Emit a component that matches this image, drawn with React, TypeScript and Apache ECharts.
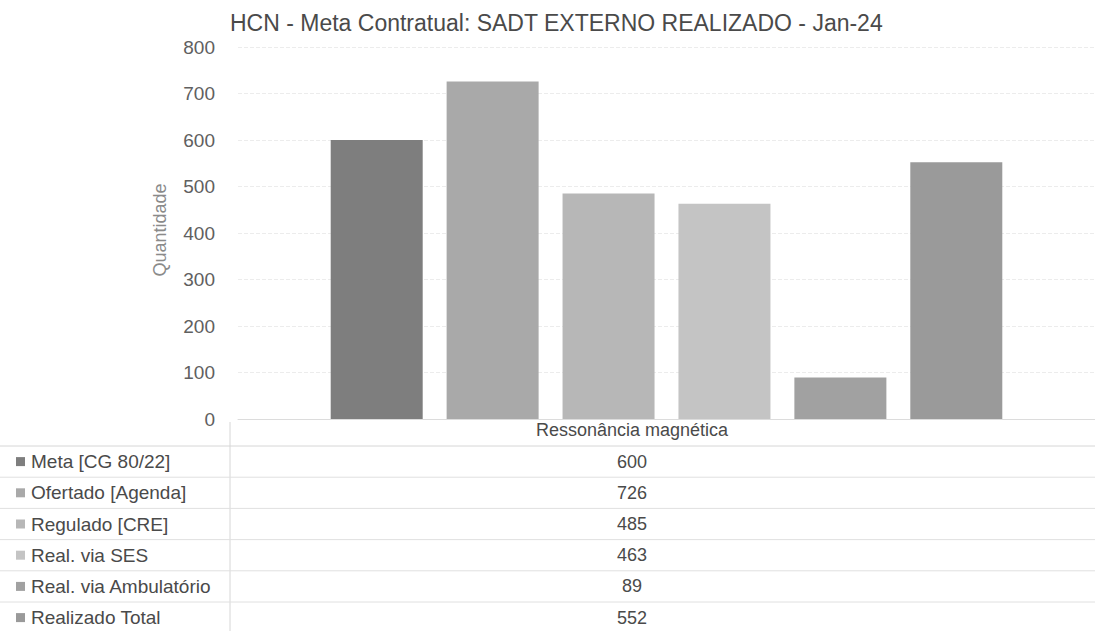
import React, { useEffect, useRef } from "react";
import * as echarts from "echarts";

const TITLE = "HCN - Meta Contratual: SADT EXTERNO REALIZADO - Jan-24";
const Y_NAME = "Quantidade";
const categories = ["Ressonância magnética"];
const seriesNames = [
  "Meta [CG 80/22]",
  "Ofertado [Agenda]",
  "Regulado [CRE]",
  "Real. via SES",
  "Real. via Ambulatório",
  "Realizado Total",
];
const seriesValues = [600, 726, 485, 463, 89, 552];
const seriesColors = ["#7e7e7e", "#a9a9a9", "#b7b7b7", "#c4c4c4", "#a1a1a1", "#9a9a9a"];
const yMin = 0;
const yMax = 800;
const yInterval = 100;

const FONT = "'Liberation Sans', Arial, sans-serif";

export default function App() {
  const ref = useRef<HTMLDivElement>(null);

  useEffect(() => {
    document.body.style.margin = "0";
    if (!ref.current) return;
    const chart = echarts.init(ref.current, undefined, { renderer: "svg" });

    const W = 1095;
    const tableCenterX = 632;
    const rowTop = 446;
    const rowH = 31.2;
    const colLeftX = 230;

    const graphics: any[] = [];
    graphics.push({
      type: "text",
      x: tableCenterX,
      y: 430,
      style: {
        text: categories[0],
        font: `18px ${FONT}`,
        fill: "#4a4a4a",
        align: "center",
        verticalAlign: "middle",
      },
    });
    graphics.push({
      type: "line",
      shape: { x1: colLeftX, y1: 422, x2: colLeftX, y2: 631 },
      style: { stroke: "#d6d6d6", lineWidth: 1 },
    });
    graphics.push({
      type: "line",
      shape: { x1: 0, y1: rowTop, x2: W, y2: rowTop },
      style: { stroke: "#d6d6d6", lineWidth: 1 },
    });
    seriesNames.forEach((name, i) => {
      const cy = rowTop + rowH * i + rowH / 2;
      graphics.push({
        type: "rect",
        shape: { x: 16, y: cy - 4.5, width: 9, height: 9 },
        style: { fill: seriesColors[i] },
      });
      graphics.push({
        type: "text",
        x: 31,
        y: cy,
        style: {
          text: name,
          font: `19px ${FONT}`,
          fill: "#4a4a4a",
          align: "left",
          verticalAlign: "middle",
        },
      });
      graphics.push({
        type: "text",
        x: tableCenterX,
        y: cy,
        style: {
          text: String(seriesValues[i]),
          font: `18px ${FONT}`,
          fill: "#4a4a4a",
          align: "center",
          verticalAlign: "middle",
        },
      });
      graphics.push({
        type: "line",
        shape: { x1: 0, y1: rowTop + rowH * (i + 1), x2: W, y2: rowTop + rowH * (i + 1) },
        style: { stroke: "#e0e0e0", lineWidth: 1 },
      });
    });
    graphics.push({
      type: "text",
      x: 160,
      y: 230,
      rotation: Math.PI / 2,
      style: {
        text: Y_NAME,
        font: `18px ${FONT}`,
        fill: "#8a8a8a",
        align: "center",
        verticalAlign: "middle",
      },
    });

    chart.setOption({
      animation: false,
      backgroundColor: "#ffffff",
      title: {
        text: TITLE,
        left: 225,
        top: 6,
        textStyle: { fontFamily: FONT, fontSize: 23, fontWeight: "normal", color: "#4a4a4a" },
      },
      grid: { left: 238, right: 0, top: 47, bottom: 212, containLabel: false },
      xAxis: {
        type: "category",
        data: categories,
        axisLabel: { show: false },
        axisTick: { show: false },
        axisLine: { show: true, lineStyle: { color: "#dcdcdc" } },
      },
      yAxis: {
        type: "value",
        min: yMin,
        max: yMax,
        interval: yInterval,
        axisLabel: {
          margin: 23,
          fontFamily: FONT,
          fontSize: 19,
          color: "#606060",
        },
        axisLine: { show: false },
        axisTick: { show: false },
        splitLine: { lineStyle: { color: "#ececec", type: "dashed" } },
      },
      series: seriesNames.map((name, i) => ({
        type: "bar",
        name,
        data: [seriesValues[i]],
        barWidth: 92,
        barGap: "26%",
        itemStyle: { color: seriesColors[i] },
      })),
      graphic: graphics,
    });

    return () => chart.dispose();
  }, []);

  return <div ref={ref} style={{ width: 1095, height: 631 }} />;
}
